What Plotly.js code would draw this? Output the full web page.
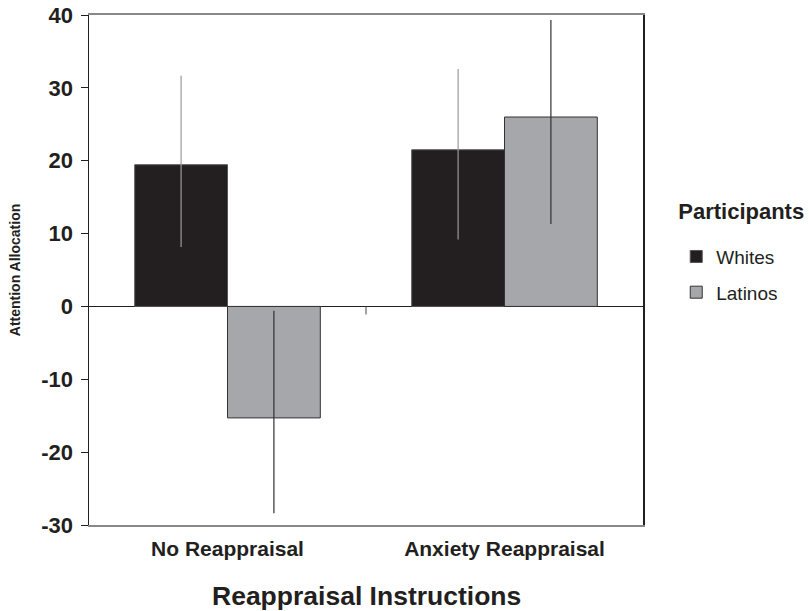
<!DOCTYPE html>
<html>
<head>
<meta charset="utf-8">
<script src="https://cdn.plot.ly/plotly-3.0.1.min.js"></script>
<style>html,body{margin:0;padding:0;background:#fff;}#chart{width:809px;height:611px;}</style>
</head>
<body>
<div id="chart"></div>
<script>
const categories = ["No Reappraisal", "Anxiety Reappraisal"];
const whites = [19.45, 21.5];
const whitesErrPlus = [12.2, 11.1];
const whitesErrMinus = [11.3, 12.3];
const latinos = [-15.3, 26.0];
const latinosErrPlus = [14.7, 13.3];
const latinosErrMinus = [13.1, 14.7];
const yTicks = [-30, -20, -10, 0, 10, 20, 30, 40];

const FONT = "Liberation Sans, Arial, sans-serif";

const traces = [
  {
    type: "bar", name: "Whites", x: categories, y: whites,
    marker: {color: "#231f20", line: {color: "#555", width: 1}},
    error_y: {type: "data", symmetric: false, array: whitesErrPlus, arrayminus: whitesErrMinus,
              color: "#9a9a9a", thickness: 1.2, width: 0},
    legendgroup: "w"
  },
  {
    type: "bar", name: "Latinos", x: categories, y: latinos,
    marker: {color: "#a6a7aa", line: {color: "#333", width: 1}},
    error_y: {type: "data", symmetric: false, array: latinosErrPlus, arrayminus: latinosErrMinus,
              color: "#333", thickness: 1.2, width: 0},
    legendgroup: "l"
  }
];

const layout = {
  width: 809, height: 611,
  margin: {l: 89, r: 166, t: 15, b: 86, autoexpand: false},
  paper_bgcolor: "#fff", plot_bgcolor: "#fff",
  font: {family: FONT, color: "#231f20"},
  barmode: "group", bargap: 0.33, bargroupgap: 0,
  showlegend: true,
  legend: {
    x: 1.06, xanchor: "left", y: 0.527, yanchor: "middle",
    title: {text: "<span style='font-size:22px'><b>Participants</b></span><br> ", font: {size: 14, family: FONT}, side: "top"},
    font: {size: 19, family: FONT, color: "#231f20"},
    traceorder: "grouped", tracegroupgap: 8,
    bgcolor: "rgba(0,0,0,0)"
  },
  xaxis: {
    type: "category",
    showline: true, linecolor: "#888", linewidth: 2, mirror: true,
    ticks: "", showgrid: false, zeroline: false,
    tickfont: {size: 21, family: FONT, color: "#231f20", weight: "bold"},
    ticklabelstandoff: 4
  },
  yaxis: {
    range: [-30, 40], tickvals: yTicks, ticktext: yTicks.map(String),
    showline: true, linecolor: "#231f20", linewidth: 1.5, mirror: true,
    ticks: "outside", ticklen: 7, tickcolor: "#231f20",
    showgrid: false,
    zeroline: true, zerolinecolor: "#231f20", zerolinewidth: 1.5,
    tickfont: {size: 22, family: FONT, color: "#231f20", weight: "bold"},
    ticklabelstandoff: 3,
    title: {text: "<b>Attention Allocation</b>", font: {size: 14, family: FONT, color: "#231f20"}, standoff: 17}
  },
  annotations: [
    {text: "<b>Reappraisal Instructions</b>", xref: "paper", yref: "paper",
     x: 0.5, y: -0.139, xanchor: "center", yanchor: "middle", showarrow: false,
     font: {size: 26.5, family: FONT, color: "#231f20"}}
  ],
  shapes: [
    {type: "line", xref: "x", yref: "y", ysizemode: "pixel", yanchor: 0,
     x0: 0.5, x1: 0.5, y0: 0, y1: -8, line: {color: "#444", width: 1}}
  ]
};

Plotly.newPlot("chart", traces, layout, {displayModeBar: false, staticPlot: true});
</script>
</body>
</html>
